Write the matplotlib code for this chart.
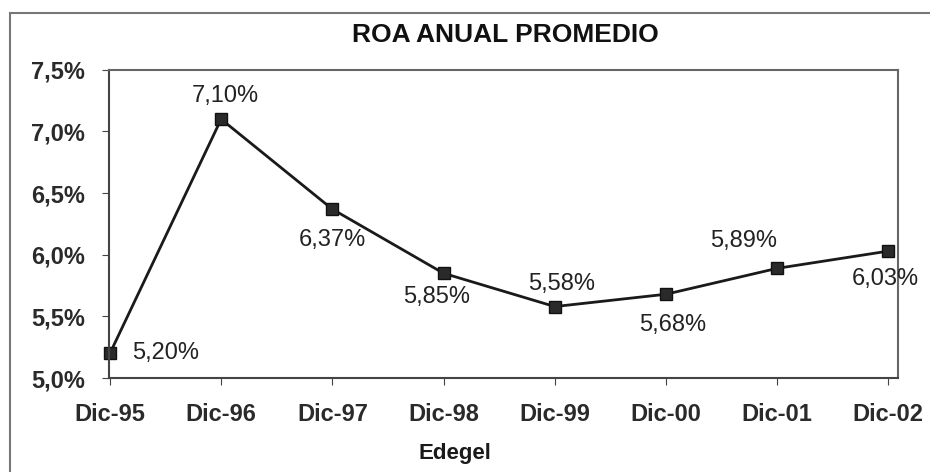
import matplotlib.pyplot as plt
from matplotlib.patches import Rectangle

plt.rcParams['font.family'] = ['Liberation Sans', 'DejaVu Sans']

periodos = ['Dic-95', 'Dic-96', 'Dic-97', 'Dic-98', 'Dic-99', 'Dic-00', 'Dic-01', 'Dic-02']
roa = [5.20, 7.10, 6.37, 5.85, 5.58, 5.68, 5.89, 6.03]
# label offset (points) for each value: above / below / side
offsets = [(40, 0), (3, 17), (0, -22), (-5, -17), (5, 16), (5, -22), (-24, 20), (-2, -20)]

fig = plt.figure(figsize=(9.3, 4.72), dpi=100)
ax = fig.add_axes([0.117, 0.199, 0.849, 0.653])

x = list(range(len(periodos)))
ax.plot(x, roa, color='#1a1a1a', lw=2, marker='s', ms=8,
        markerfacecolor='#2a2a2a', markeredgecolor='#111111', clip_on=False)

for xi, v, off in zip(x, roa, offsets):
    txt = f'{v:.2f}%'.replace('.', ',')
    ax.annotate(txt, (xi, v), xytext=off, textcoords='offset points',
                ha='center', va='center', fontsize=17, color='#222222')

ax.set_xlim(-0.01, 7.09)
ax.set_ylim(5.0, 7.5)
ax.set_yticks([5.0, 5.5, 6.0, 6.5, 7.0, 7.5])
ax.set_yticklabels([f'{t:.1f}%'.replace('.', ',') for t in [5.0, 5.5, 6.0, 6.5, 7.0, 7.5]],
                   fontsize=17, fontweight='bold', color='#2a2a2a')
ax.set_xticks(x)
ax.set_xticklabels(periodos, fontsize=17, fontweight='bold', color='#2a2a2a')
ax.tick_params(axis='x', direction='out', length=5, pad=13, color='#444444')
ax.tick_params(axis='y', direction='out', length=5, pad=12, color='#444444')

for s in ['left', 'bottom']:
    ax.spines[s].set_color('#444444')
    ax.spines[s].set_linewidth(1.5)
for s in ['top', 'right']:
    ax.spines[s].set_color('#666666')
    ax.spines[s].set_linewidth(1.5)

ax.set_xlabel('Edegel', fontsize=16, fontweight='bold', color='#1a1a1a')
ax.xaxis.set_label_coords(0.438, -0.21)
fig.text(0.543, 0.925, 'ROA ANUAL PROMEDIO', ha='center', va='center',
         fontsize=19, fontweight='bold', color='#111111')

# outer chart frame
fig.patches.append(Rectangle((0.011, -0.05), 1.1, 1.022, transform=fig.transFigure,
                             fill=False, edgecolor='#777777', lw=1.5))

fig.savefig('out.png', dpi=100)
